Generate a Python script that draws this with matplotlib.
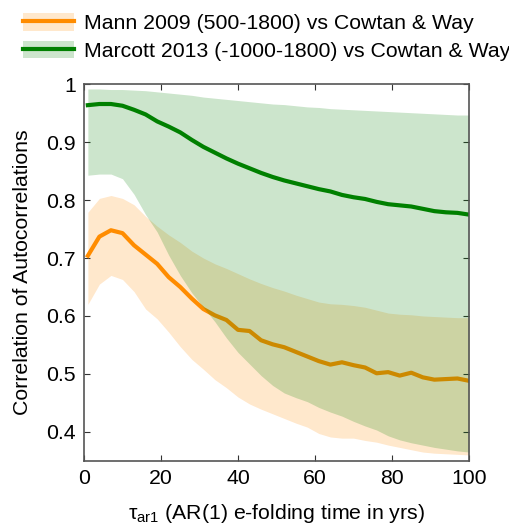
import numpy as np
import matplotlib.pyplot as plt
from matplotlib.patches import Patch
from matplotlib.lines import Line2D

plt.rcParams['font.family'] = ['Liberation Sans', 'DejaVu Sans']
plt.rcParams['mathtext.fontset'] = 'custom'
plt.rcParams['mathtext.rm'] = 'Liberation Sans'
plt.rcParams['mathtext.it'] = 'Liberation Sans'

# e-folding time (yrs)
tau = [1, 4, 7, 10, 13, 16, 19, 22, 25, 28, 31, 34, 37, 40, 43, 46, 49,
       52, 55, 58, 61, 64, 67, 70, 73, 76, 79, 82, 85, 88, 91, 94, 97, 100]

# Mann 2009 vs Cowtan & Way
mann_mean = [.704, .737, .748, .743, .722, .706, .690, .667, .650, .630, .612, .601,
             .593, .576, .574, .558, .551, .546, .538, .530, .522, .516, .520, .515,
             .511, .501, .503, .497, .502, .494, .490, .491, .492, .488]
mann_hi = [.779, .803, .808, .803, .792, .772, .755, .740, .727, .712, .700, .690,
           .682, .673, .664, .656, .649, .643, .636, .630, .624, .621, .620, .618,
           .615, .610, .605, .603, .602, .600, .599, .598, .597, .597]
mann_lo = [.620, .655, .670, .663, .642, .612, .595, .572, .547, .525, .508, .490,
           .476, .460, .448, .439, .431, .423, .415, .408, .397, .391, .389, .389,
           .385, .382, .377, .373, .369, .365, .363, .362, .361, .360]

# Marcott 2013 vs Cowtan & Way
marc_mean = [.964, .966, .966, .963, .956, .948, .936, .927, .917, .904, .892, .882,
             .872, .863, .855, .847, .840, .834, .829, .824, .819, .815, .809, .805,
             .802, .797, .793, .791, .789, .785, .781, .779, .778, .775]
marc_hi = [.992, .992, .991, .991, .990, .989, .987, .985, .983, .981, .978, .976,
           .974, .972, .970, .968, .966, .965, .963, .961, .960, .958, .957, .956,
           .955, .954, .953, .952, .951, .950, .949, .948, .947, .947]
marc_lo = [.843, .845, .845, .837, .810, .775, .745, .705, .670, .640, .615, .590,
           .562, .537, .517, .497, .480, .467, .459, .452, .442, .434, .427, .418,
           .410, .403, .393, .386, .381, .377, .373, .370, .367, .365]

orange = '#ff8c00'
green = '#008000'

fig = plt.figure(figsize=(5.10, 5.26), dpi=100)
ax = fig.add_axes([0.1647, 0.1241, 0.7549, 0.7156])

# green band goes over the orange line, so it shows darker inside the overlap
ax.fill_between(tau, mann_lo, mann_hi, color=orange, alpha=0.2, lw=0, zorder=1)
ax.plot(tau, mann_mean, color=orange, lw=3, zorder=2)
ax.fill_between(tau, marc_lo, marc_hi, color=green, alpha=0.2, lw=0, zorder=3)
ax.plot(tau, marc_mean, color=green, lw=3, zorder=4)

ax.set_xlim(0, 100)
ax.set_ylim(0.35, 1.0)
ax.set_xticks([0, 20, 40, 60, 80, 100])
ax.set_yticks([0.4, 0.5, 0.6, 0.7, 0.8, 0.9, 1.0])
ax.set_yticklabels(['0.4', '0.5', '0.6', '0.7', '0.8', '0.9', '1'])
ax.tick_params(direction='in', length=4, top=True, right=True, labelsize=15.3,
               color='#333333', pad=6)
for s in ax.spines.values():
    s.set_color('#555555')
    s.set_linewidth(1.2)
    s.set_zorder(5)

ax.set_ylabel('Correlation of Autocorrelations', fontsize=15.3, labelpad=10)
ax.set_xlabel(r'$\mathregular{\tau_{ar1}}$ (AR(1) e-folding time in yrs)', fontsize=15.3,
              labelpad=10)

h1 = (Patch(facecolor=orange, alpha=0.2, lw=0), Line2D([], [], color=orange, lw=3))
h2 = (Patch(facecolor=green, alpha=0.2, lw=0), Line2D([], [], color=green, lw=3))
fig.legend([h1, h2], ['Mann 2009 (500-1800) vs Cowtan & Way',
                      'Marcott 2013 (-1000-1800) vs Cowtan & Way'],
           loc='upper left', bbox_to_anchor=(0.045, 0.975), frameon=False,
           fontsize=15.3, handlelength=2.4, handleheight=0.9, handletextpad=0.45,
           labelspacing=0.35, borderpad=0, borderaxespad=0)

fig.savefig('out.png', dpi=100)
